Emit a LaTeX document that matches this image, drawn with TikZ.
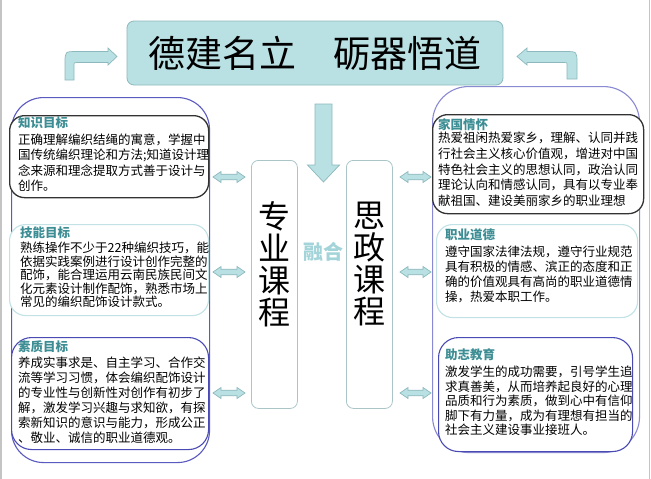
\documentclass[tikz,border=0pt]{standalone}
\usepackage{fontspec}
\newfontfamily\cjk{Noto Sans CJK SC}
\definecolor{tealfill}{HTML}{B9E0E3}
\definecolor{tealedge}{HTML}{8DB9BE}
\definecolor{headteal}{HTML}{3D8E94}
\definecolor{ronghe}{HTML}{A3D4D9}
\definecolor{outL}{HTML}{5A5AC0}
\definecolor{outR}{HTML}{8A8AD2}
\definecolor{purp}{HTML}{4A4AB5}
\definecolor{lightedge}{HTML}{C2E2E6}
\definecolor{cedge}{HTML}{A9C5C8}
\definecolor{side}{HTML}{C4C4C4}
\tikzset{
  boxbase/.style={anchor=north west, inner sep=0pt, fill=white},
  blackbox/.style={boxbase, draw=black!80, line width=1.3pt, rounded corners=15pt},
  lightbox/.style={boxbase, draw=lightedge, line width=1.1pt, rounded corners=16pt},
  purpbox/.style={boxbase, draw=purp, line width=1.1pt, rounded corners=20pt},
  outerbox/.style={anchor=north west, inner sep=0pt, line width=1.1pt, rounded corners=32pt},
  coursebox/.style={anchor=north west, inner sep=0pt, draw=cedge, line width=0.8pt, rounded corners=7pt, fill=white},
  blockarrow/.style={fill=tealfill, draw=tealedge, line width=0.7pt, line join=miter},
  head/.style={anchor=west, inner sep=0pt, text=headteal, font=\cjk\fontsize{12.5}{12.5}\selectfont\bfseries},
  body/.style={anchor=north west, inner sep=0pt, align=left, font=\cjk\fontsize{12.5}{#1}\selectfont},
  vtext/.style={inner sep=0pt, align=center, font=\cjk\fontsize{32}{32}\selectfont}
}
\begin{document}
\begin{tikzpicture}[x=1pt,y=-1pt]
\useasboundingbox (0,0) rectangle (651,479);
\fill[white] (0,0) rectangle (651,479);
\fill[side] (0,0) rectangle (2,479);
\fill[side] (648.5,0) rectangle (650,479);

% title
\node[fill=tealfill, draw=tealedge, line width=0.8pt, rounded corners=7pt,
      minimum width=376pt, minimum height=64pt, inner sep=0pt,
      font=\cjk\fontsize{37}{37}\selectfont] (title) at (315,53) {德建名立　砺器悟道};

% bent arrows
\filldraw[blockarrow] (65,80) -- (65,63) .. controls (65,51.5) .. (77,51.5) -- (108,51.5) -- (108,48) -- (117,56.5) -- (108,65) -- (108,62.5) -- (77,62.5) .. controls (74,62.5) .. (74,66) -- (74,80) -- cycle;
\filldraw[blockarrow] (577,79) -- (577,63) .. controls (577,51.5) .. (565,51.5) -- (527,51.5) -- (527,48) -- (517,56.5) -- (527,65) -- (527,62.5) -- (565,62.5) .. controls (567,62.5) .. (567,66) -- (567,79) -- cycle;

% outer frames
\node[outerbox, draw=outL, minimum width=198pt, minimum height=365pt] (outerL) at (11,97) {};
\node[outerbox, draw=outR, minimum width=207pt, minimum height=366pt, rounded corners=36pt] (outerR) at (432,86) {};

% left boxes
\node[blackbox, minimum width=199pt, minimum height=82pt] (know) at (9,115) {};
\node[lightbox, minimum width=199pt, minimum height=91pt] (skill) at (9,224) {};
\node[purpbox, minimum width=197pt, minimum height=112pt] (qual) at (11,337) {};
% right boxes
\node[blackbox, minimum width=211pt, minimum height=99pt] (home) at (432,114) {};
\node[lightbox, minimum width=201pt, minimum height=93pt] (ethic) at (436,224) {};
\node[purpbox, minimum width=194pt, minimum height=114pt] (aspire) at (438,337) {};

% texts left
\node[head] (knowH) at (18,123) {知识目标};
\node[body=15.3pt] (knowT) at (18,133.75) {正确理解编织结绳的寓意，学握中\\国传统编织理论和方法;知道设计理\\念来源和理念提取方式善于设计与\\创作。};
\node[head] (skillH) at (20,233) {技能目标};
\node[body=13.6pt] (skillT) at (20,241.75) {熟练操作不少于22种编织技巧，能\\依据实践案例进行设计创作完整的\\配饰，能合理运用云南民族民间文\\化元素设计制作配饰，熟悉市场上\\常见的编织配饰设计款式。};
\node[head] (qualH) at (18,347) {素质目标};
\node[body=15pt] (qualT) at (18,356.75) {养成实事求是、自主学习、合作交\\流等学习习惯，体会编织配饰设计\\的专业性与创新性对创作有初步了\\解，激发学习兴趣与求知欲，有探\\索新知识的意识与能力，形成公正\\、敬业、诚信的职业道德观。};

% texts right
\node[head] (homeH) at (438,125) {家国情怀};
\node[body=15.8pt] (homeT) at (438,131.75) {热爱祖闲热爱家乡，理解、认同并践\\行社会主义核心价值观，增进对中国\\特色社会主义的思想认同，政治认同\\理论认向和情感认同，具有以专业奉\\献祖国、建设美丽家乡的职业理想};
\node[head] (ethicH) at (445,235) {职业道德};
\node[body=15pt] (ethicT) at (445,245.75) {遵守国家法律法规，遵守行业规范\\具有积极的情感、滨正的态度和正\\确的价值观具有高尚的职业道德情\\操，热爱本职工作。};
\node[head] (aspireH) at (445,355) {助志教育};
\node[body=14.6pt] (aspireT) at (445,365.75) {激发学生的成功需要，引号学生追\\求真善美，从而培养起良好的心理\\品质和行为素质，做到心中有信仰\\脚下有力量，成为有理想有担当的\\社会主义建设事业接班人。};

% course boxes
\node[coursebox, minimum width=46pt, minimum height=248pt] (zhuanye) at (251,160) {};
\node[coursebox, minimum width=46pt, minimum height=248pt] (sizheng) at (346,160) {};
\node[vtext] (zhuanyeT) at (274,264.5) {专\\业\\课\\程};
\node[vtext] (sizhengT) at (369,264.5) {思\\政\\课\\程};
\node[inner sep=0pt, text=ronghe, font=\cjk\fontsize{20}{20}\selectfont\bfseries] (ronghe) at (323.5,252) {融合};

% down arrow
\filldraw[blockarrow] (315,104) -- (332,104) -- (332,165) -- (339.5,165) -- (323.5,182) -- (307.5,165) -- (315,165) -- cycle;

% double arrows
\foreach \xa/\xb in {213/245, 400/431}{
  \foreach \yc in {177, 272, 393}{
    \filldraw[blockarrow] (\xa,\yc) -- ++(8,-5.5) -- ++(0,2.7) -- (\xb-8,\yc-2.8) -- ++(0,-2.7) -- (\xb,\yc) -- ++(-8,5.5) -- ++(0,-2.7) -- (\xa+8,\yc+2.8) -- ++(0,2.7) -- cycle;
  }
}
\end{tikzpicture}
\end{document}
